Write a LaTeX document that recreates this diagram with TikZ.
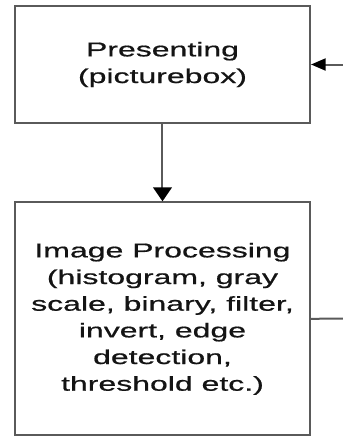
\documentclass[tikz,border=0pt]{standalone}
\usepackage{fontspec}
\setmainfont{Liberation Sans}[FakeStretch=1.6, FakeBold=0.7]
\usetikzlibrary{positioning, arrows.meta}

\definecolor{edgegray}{RGB}{90,90,90}
\definecolor{txtgray}{RGB}{20,20,20}

\tikzset{
  blk/.style={draw=edgegray, line width=1.5pt, minimum width=221.25pt, inner sep=0pt,
    align=center, text=txtgray, font=\fontsize{15}{20}\selectfont},
  conn/.style={draw=edgegray, line width=1.5pt},
  tipH/.style={-{Triangle[length=11pt,width=9pt,fill=black,color=black]}},
  tipV/.style={-{Triangle[length=10.5pt,width=14pt,fill=black,color=black]}}
}

\begin{document}
\begin{tikzpicture}[x=0.75pt,y=0.75pt,yscale=-1]
%set diagram frame 343 x 437
\path[use as bounding box] (0,0) rectangle (343,437);

%Blocks
\node[blk, minimum height=87.75pt] (present) at (162.5,64.5) {Presenting\\(picturebox)};
\node[blk, minimum height=174.75pt, below=58pt of present] (improc)
  {Image Processing\\(histogram, gray\\scale, binary, filter,\\invert, edge\\detection,\\threshold etc.)};

%Loose ends on the right
\coordinate (inR) at (343,64.5);
\coordinate (outR) at (343,318.5);

%Connectors
\draw[conn, tipH] (inR) -- (present.east);
\draw[conn, tipV] (present) -- (improc);
\draw[conn] (improc.east) -- (outR);

\end{tikzpicture}
\end{document}
